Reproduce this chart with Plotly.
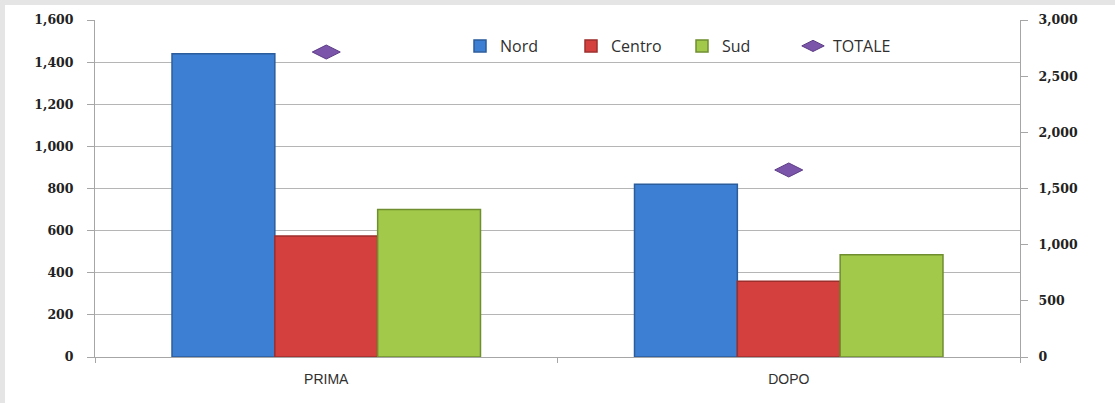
import plotly.graph_objects as go

categories = ["PRIMA", "DOPO"]
nord = [1440, 820]
centro = [575, 360]
sud = [700, 485]
totale = [2715, 1665]

W, H = 1115, 403
L, R, T, B = 95, 95, 20, 46
pw, ph = W - L - R, H - T - B

fig = go.Figure()
fig.add_trace(go.Bar(name="Nord", x=categories, y=nord,
                     marker=dict(color="#3d7fd3", line=dict(color="#2b5c9c", width=1.5))))
fig.add_trace(go.Bar(name="Centro", x=categories, y=centro,
                     marker=dict(color="#d4403e", line=dict(color="#9c2e2c", width=1.5))))
fig.add_trace(go.Bar(name="Sud", x=categories, y=sud,
                     marker=dict(color="#a2c94a", line=dict(color="#6f8e2f", width=1.5))))
fig.add_trace(go.Scatter(name="TOTALE", x=categories, y=totale, yaxis="y2", mode="markers",
                         marker=dict(symbol="diamond-wide", size=20, color="#7b55a9",
                                     line=dict(color="#5c3c86", width=1))))

def px_to_paper_x(px):
    return (px - L) / pw

def px_to_paper_y(py):
    return (H - B - py) / ph

fig.add_shape(type="rect", xref="paper", yref="paper", layer="below",
              x0=px_to_paper_x(-10), x1=px_to_paper_x(W + 10),
              y0=px_to_paper_y(H + 10), y1=px_to_paper_y(-10),
              fillcolor="#e5e5e5", line=dict(width=0))
fig.add_shape(type="rect", xref="paper", yref="paper", layer="below",
              x0=px_to_paper_x(5), x1=px_to_paper_x(W + 10),
              y0=px_to_paper_y(H + 10), y1=px_to_paper_y(5),
              fillcolor="white", line=dict(width=0))

tickfont = dict(family="DejaVu Serif", size=12.5, color="#222222", weight="bold")
fig.update_layout(
    width=W, height=H,
    margin=dict(l=L, r=R, t=T, b=B),
    paper_bgcolor="white", plot_bgcolor="rgba(0,0,0,0)",
    barmode="group", bargap=0.333, bargroupgap=0,
    showlegend=True,
    legend=dict(orientation="h", x=px_to_paper_x(460), y=px_to_paper_y(29), xanchor="left", yanchor="top",
                font=dict(family="Open Sans", size=16, color="#303030"),
                bgcolor="rgba(0,0,0,0)", traceorder="normal", itemwidth=30,
                entrywidth=66, entrywidthmode="pixels"),
    xaxis=dict(showline=True, linecolor="#a6a6a6", linewidth=1, ticks="outside", tickson="boundaries",
               ticklen=5, tickcolor="#a6a6a6", showgrid=False, ticklabelstandoff=9,
               tickfont=dict(family="Liberation Sans", size=14, color="#303030")),
    yaxis=dict(range=[0, 1600], dtick=200, tickformat=",", showline=True, linecolor="#a6a6a6",
               ticks="outside", ticklen=7, tickcolor="#a6a6a6", gridcolor="#b5b5b5", gridwidth=1,
               tickfont=tickfont, zeroline=False, ticklabelstandoff=11),
    yaxis2=dict(range=[0, 3000], dtick=500, tickformat=",", overlaying="y", side="right",
                showline=True, linecolor="#a6a6a6", ticks="outside", ticklen=7, tickcolor="#a6a6a6",
                showgrid=False, tickfont=tickfont, zeroline=False, ticklabelstandoff=8),
)

fig.write_html("out.html", config={"displayModeBar": False},
               post_script="document.body.style.margin='0';document.body.style.overflow='hidden';")
